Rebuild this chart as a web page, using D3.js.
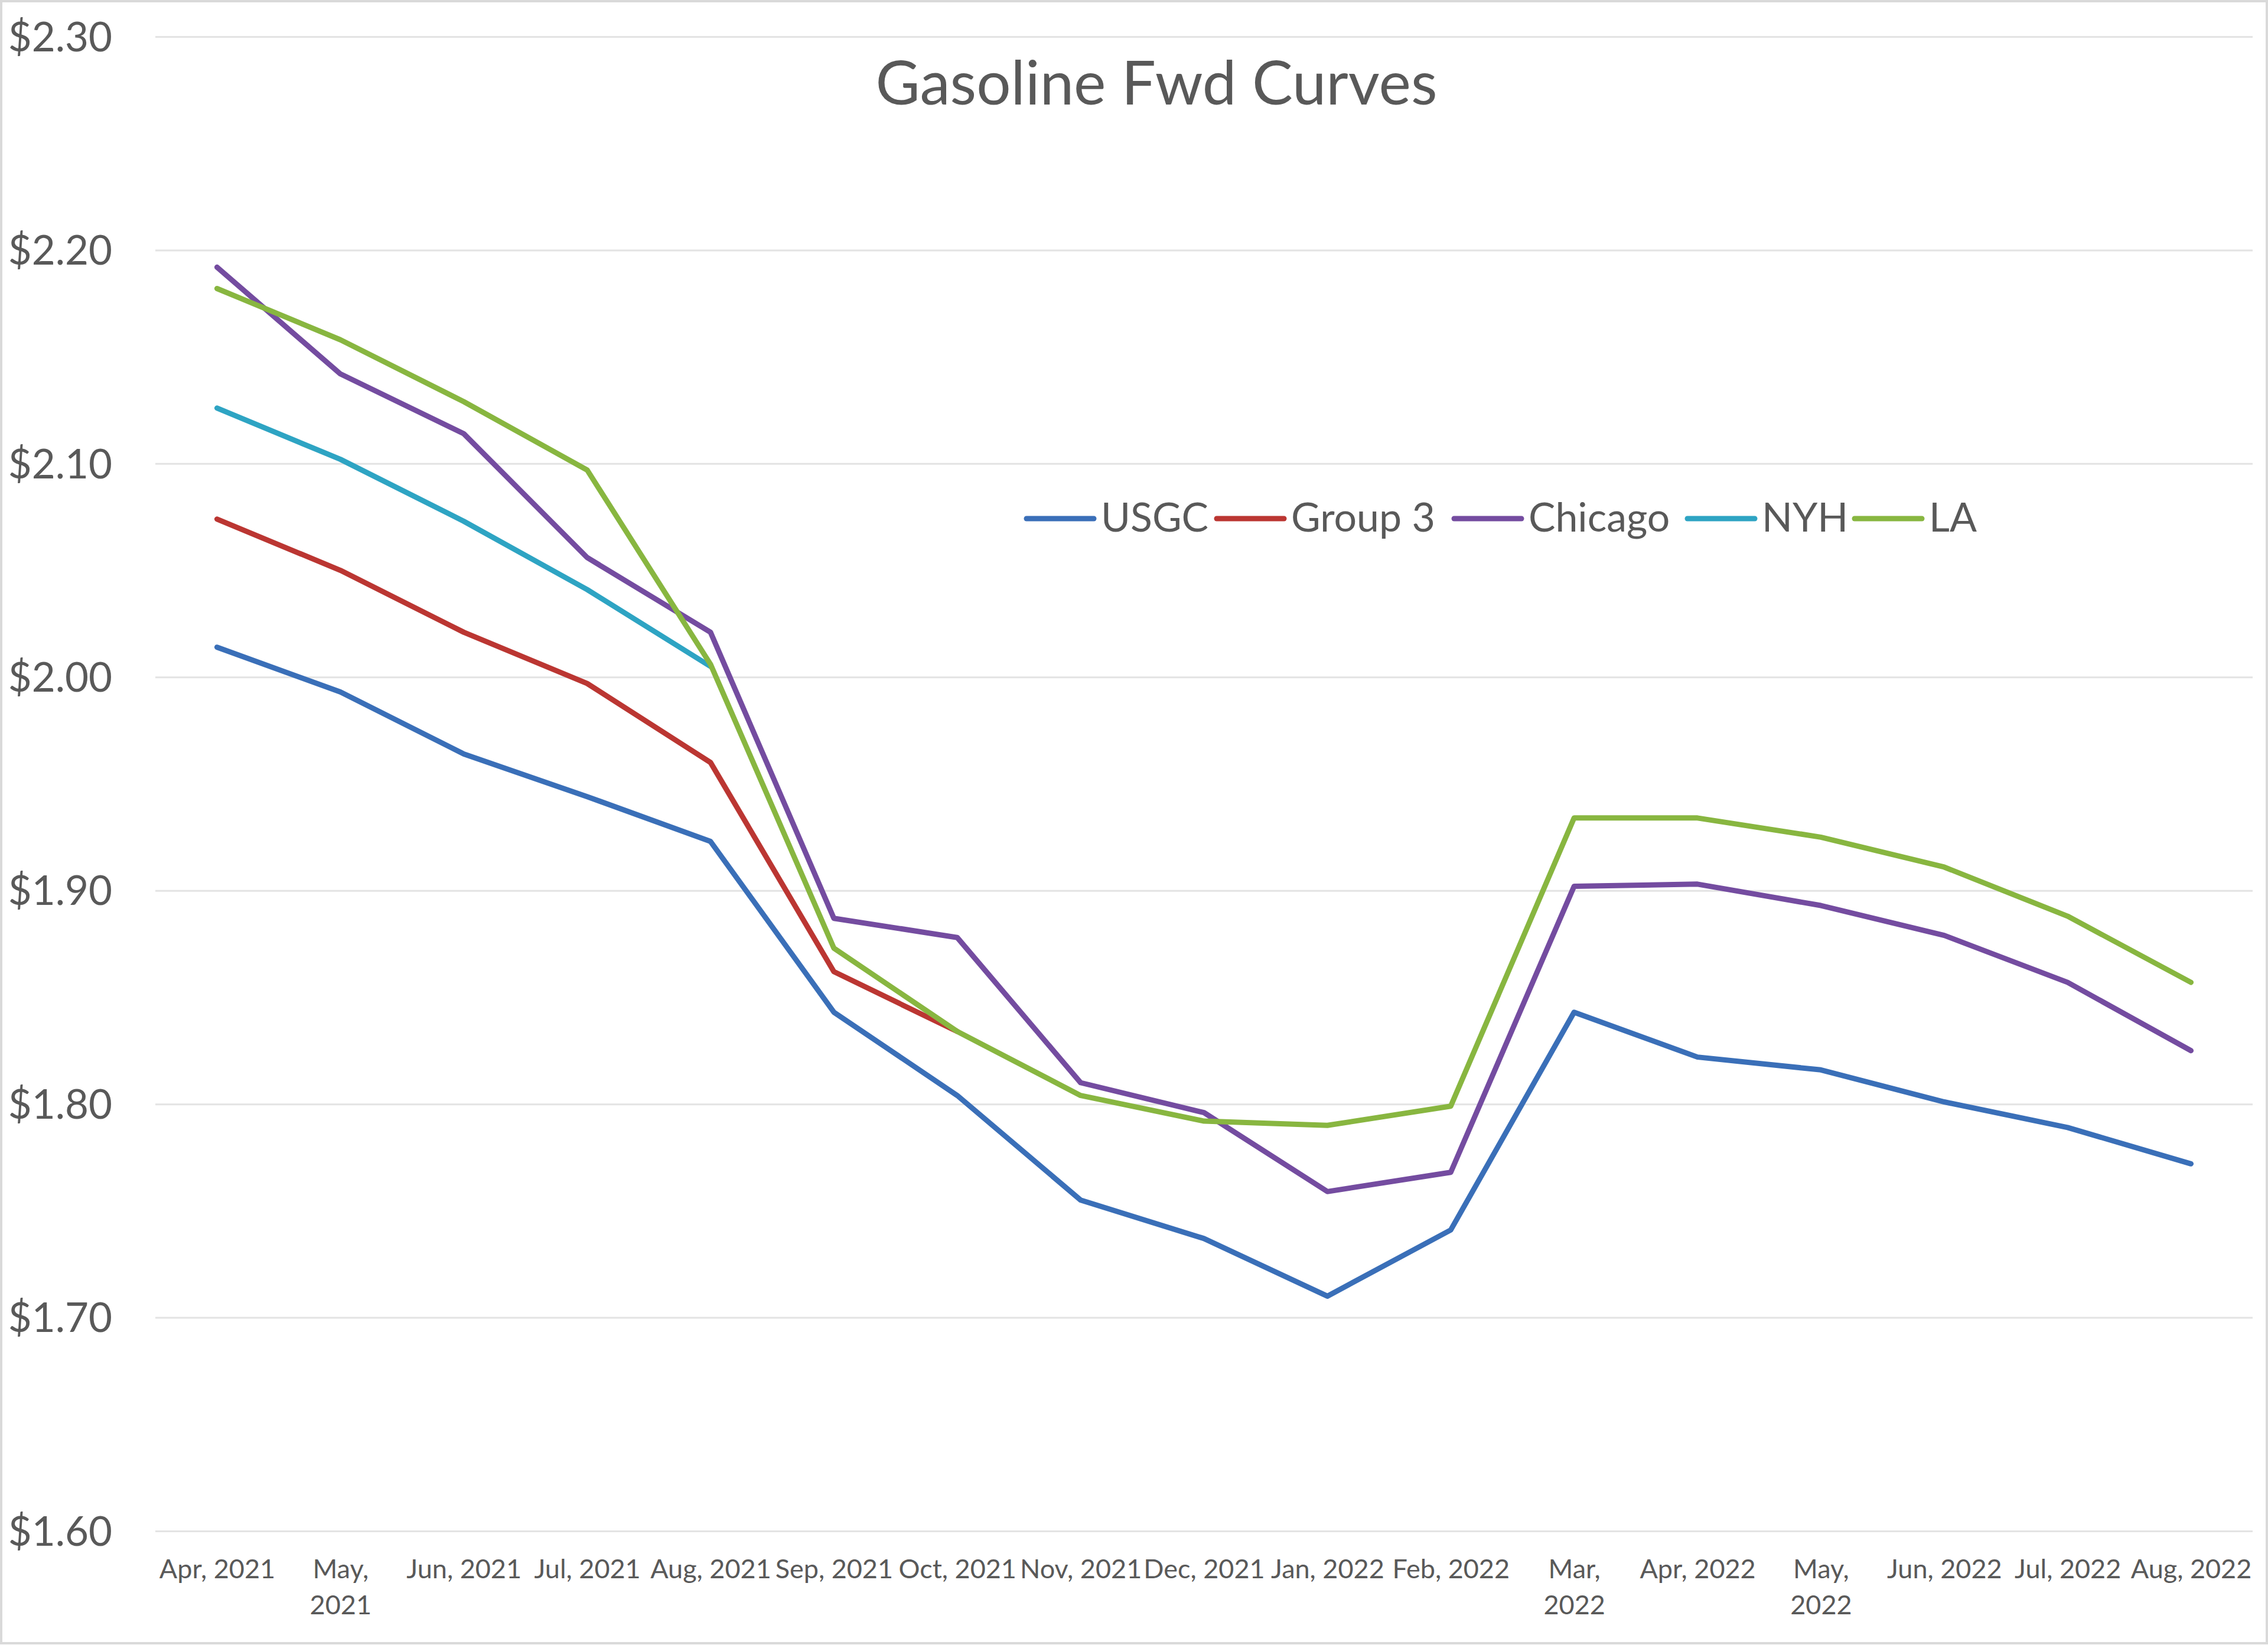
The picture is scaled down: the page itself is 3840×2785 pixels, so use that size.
<!DOCTYPE html>
<html>
<head>
<meta charset="utf-8">
<script src="https://cdn.jsdelivr.net/npm/d3@7"></script>
<style>
  html, body { margin: 0; padding: 0; background: #ffffff; }
  svg { display: block; }
</style>
</head>
<body>
<svg id="chart" width="3840" height="2785"></svg>
<script>
// ---- Data ----
const months = ["Apr, 2021","May, 2021","Jun, 2021","Jul, 2021","Aug, 2021","Sep, 2021","Oct, 2021","Nov, 2021","Dec, 2021","Jan, 2022","Feb, 2022","Mar, 2022","Apr, 2022","May, 2022","Jun, 2022","Jul, 2022","Aug, 2022"];
const tickLabels = ["Apr, 2021","May,\n2021","Jun, 2021","Jul, 2021","Aug, 2021","Sep, 2021","Oct, 2021","Nov, 2021","Dec, 2021","Jan, 2022","Feb, 2022","Mar,\n2022","Apr, 2022","May,\n2022","Jun, 2022","Jul, 2022","Aug, 2022"];
const usgc    = [2.014, 1.993, 1.964, 1.944, 1.923, 1.843, 1.804, 1.755, 1.737, 1.710, 1.741, 1.843, 1.822, 1.816, 1.801, 1.789, 1.772];
const group3  = [2.074, 2.050, 2.021, 1.997, 1.960, 1.862, 1.834, null, null, null, null, null, null, null, null, null, null];
const chicago = [2.192, 2.142, 2.114, 2.056, 2.021, 1.887, 1.878, 1.810, 1.796, 1.759, 1.768, 1.902, 1.903, 1.893, 1.879, 1.857, 1.825];
const nyh     = [2.126, 2.102, 2.073, 2.041, 2.005, null, null, null, null, null, null, null, null, null, null, null, null];
const la      = [2.182, 2.158, 2.129, 2.097, 2.006, 1.873, 1.834, 1.804, 1.792, 1.790, 1.799, 1.934, 1.934, 1.925, 1.911, 1.888, 1.857];
const seriesNames = ["USGC", "Group 3", "Chicago", "NYH", "LA"];
const yTicks = [1.6, 1.7, 1.8, 1.9, 2.0, 2.1, 2.2, 2.3];
const title = "Gasoline Fwd Curves";

const seriesValues = [usgc, group3, chicago, nyh, la];
const colors = ["#3a6fb8", "#bb3632", "#744ca0", "#2ea4c3", "#88b640"];

// ---- Layout ----
const W = 3840, H = 2785;
const plot = { left: 263, right: 3814, top: 62, bottom: 2592 };
const FONT = "Lato, 'Open Sans', sans-serif";
const TEXT = "#595959";

const svg = d3.select("#chart");

// chart area border
svg.append("rect")
  .attr("x", 2).attr("y", 2).attr("width", W - 4).attr("height", H - 5)
  .attr("fill", "#ffffff").attr("stroke", "#d9d9d9").attr("stroke-width", 4);

const x = d3.scalePoint().domain(months).range([plot.left, plot.right]).padding(0.5);
const y = d3.scaleLinear().domain([1.6, 2.3]).range([plot.bottom, plot.top]);

// y axis + gridlines
const yAxis = d3.axisLeft(y)
  .tickValues(yTicks)
  .tickFormat(d3.format("$.2f"))
  .tickSizeInner(-(plot.right - plot.left))
  .tickSizeOuter(0)
  .tickPadding(73);
const gy = svg.append("g").attr("transform", `translate(${plot.left},0)`).call(yAxis);
gy.select(".domain").remove();
gy.selectAll(".tick line").attr("stroke", "#e3e3e3").attr("stroke-width", 3);
gy.selectAll(".tick text")
  .attr("fill", TEXT).attr("font-family", FONT).attr("font-size", 69)
  .attr("dy", "0.35em");

// x axis labels
const xAxis = d3.axisBottom(x).tickSize(0).tickFormat(() => "");
const gx = svg.append("g").attr("transform", `translate(0,${plot.bottom})`).call(xAxis);
gx.select(".domain").remove();
gx.selectAll(".tick text").each(function(d, i) {
  const t = d3.select(this);
  t.attr("fill", TEXT).attr("font-family", FONT).attr("font-size", 45)
   .attr("y", 0).attr("dy", null);
  tickLabels[i].split("\n").forEach((ln, k) => {
    t.append("tspan").attr("x", 0).attr("y", 80 + k * 61).text(ln);
  });
});

// lines
const line = d3.line()
  .defined(d => d.v != null)
  .x(d => x(d.m))
  .y(d => y(d.v));

seriesValues.forEach((vals, si) => {
  const data = vals.map((v, i) => ({ m: months[i], v }));
  svg.append("path")
    .datum(data)
    .attr("fill", "none")
    .attr("stroke", colors[si])
    .attr("stroke-width", 9)
    .attr("stroke-linejoin", "round")
    .attr("stroke-linecap", "round")
    .attr("d", line);
});

// title
svg.append("text")
  .attr("x", 1958).attr("y", 177)
  .attr("text-anchor", "middle")
  .attr("font-family", FONT).attr("font-size", 103)
  .attr("fill", TEXT)
  .text(title);

// legend
const legendX = [1738, 2060, 2462, 2857, 3140];
const lg = svg.append("g");
seriesNames.forEach((name, i) => {
  const g = lg.append("g").attr("transform", `translate(${legendX[i]},878)`);
  g.append("line").attr("x1", 0).attr("x2", 114).attr("y1", 0).attr("y2", 0)
    .attr("stroke", colors[i]).attr("stroke-width", 9).attr("stroke-linecap", "round");
  g.append("text").attr("x", 126).attr("y", 22)
    .attr("font-family", FONT).attr("font-size", 68).attr("fill", TEXT)
    .text(name);
});
</script>
</body>
</html>
